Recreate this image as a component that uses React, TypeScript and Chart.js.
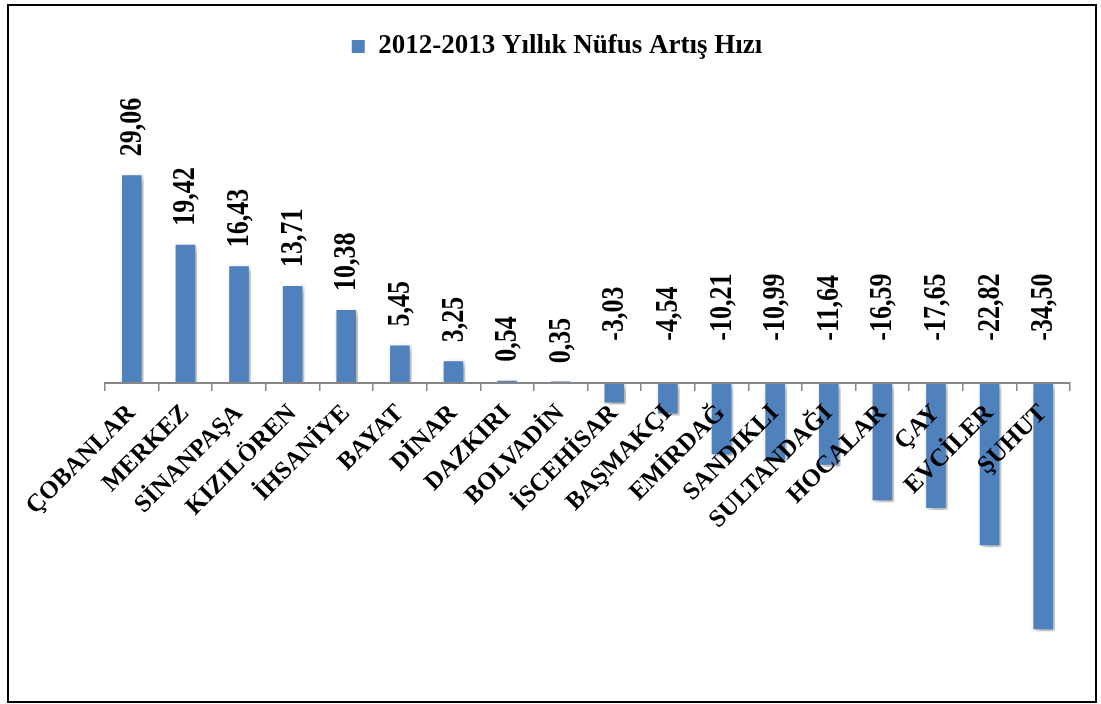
import React, { useEffect, useRef } from "react";
import { Chart, registerables } from "chart.js";

Chart.register(...registerables);

const categories = [
  "ÇOBANLAR", "MERKEZ", "SİNANPAŞA", "KIZILÖREN", "İHSANİYE", "BAYAT", "DİNAR",
  "DAZKIRI", "BOLVADİN", "İSCEHİSAR", "BAŞMAKÇI", "EMİRDAĞ", "SANDIKLI",
  "SULTANDAĞI", "HOCALAR", "ÇAY", "EVCİLER", "ŞUHUT",
];
const seriesName = "2012-2013 Yıllık Nüfus Artış Hızı";
const values = [
  29.06, 19.42, 16.43, 13.71, 10.38, 5.45, 3.25, 0.54, 0.35, -3.03, -4.54,
  -10.21, -10.99, -11.64, -16.59, -17.65, -22.82, -34.5,
];
const valueLabels = values.map((v) => v.toFixed(2).replace(".", ","));

const FONT = "'Liberation Serif', 'Times New Roman', serif";
const BLUE = "#4F81BD";

const shadowPlugin = {
  id: "barShadow",
  beforeDatasetDraw(chart: any) {
    const ctx = chart.ctx;
    ctx.save();
    ctx.shadowColor = "rgba(0,0,0,0.35)";
    ctx.shadowBlur = 6;
    ctx.shadowOffsetX = 3;
    ctx.shadowOffsetY = 3;
  },
  afterDatasetDraw(chart: any) {
    chart.ctx.restore();
  },
};

const labelPlugin = {
  id: "valueLabels",
  afterDatasetsDraw(chart: any) {
    const ctx = chart.ctx;
    const meta = chart.getDatasetMeta(0);
    const zero = chart.scales.y.getPixelForValue(0);
    ctx.save();
    ctx.font = `bold 26px ${FONT}`;
    ctx.fillStyle = "#000";
    ctx.textAlign = "left";
    ctx.textBaseline = "middle";
    meta.data.forEach((bar: any, i: number) => {
      const v = values[i];
      const startY = v >= 0 ? bar.y - 17 : zero - 42;
      ctx.save();
      ctx.translate(bar.x + 1, startY);
      ctx.rotate(-Math.PI / 2);
      ctx.scale(1, 1.2);
      ctx.fillText(valueLabels[i], 0, 0);
      ctx.restore();
    });
    ctx.restore();
  },
};

export default function App() {
  const ref = useRef<HTMLCanvasElement | null>(null);

  useEffect(() => {
    if (!ref.current) return;
    const chart = new Chart(ref.current, {
      type: "bar",
      data: {
        labels: categories,
        datasets: [
          {
            label: seriesName,
            data: values,
            backgroundColor: BLUE,
            borderColor: "#FFFFFF",
            borderWidth: 2,
            barPercentage: 0.44,
            categoryPercentage: 1,
          },
        ],
      },
      plugins: [shadowPlugin, labelPlugin],
      options: {
        responsive: false,
        animation: false,
        layout: { padding: { left: 35, right: 25, top: 17, bottom: 30 } },
        plugins: {
          tooltip: { enabled: false },
          legend: {
            display: true,
            position: "top",
            labels: {
              color: "#000",
              boxWidth: 13,
              boxHeight: 13,
              font: { family: FONT, size: 27, weight: "bold" },
              generateLabels: (c: any) =>
                Chart.defaults.plugins.legend.labels
                  .generateLabels(c)
                  .map((l: any) => ({ ...l, lineWidth: 0, strokeStyle: BLUE, fillStyle: BLUE })),
            },
          },
        },
        scales: {
          x: {
            type: "category",
            position: { y: 0 } as any,
            offset: true,
            afterFit: (scale: any) => {
              scale.height = 0;
            },
            grid: {
              display: true,
              offset: true,
              drawOnChartArea: false,
              drawTicks: true,
              tickLength: 7,
              color: "#868686",
              lineWidth: 1.5,
              z: 1,
            },
            border: { display: true, color: "#868686", width: 2, z: 1 },
            ticks: {
              z: 2,
              autoSkip: false,
              maxRotation: 45,
              minRotation: 45,
              padding: 9,
              color: "#000",
              font: { family: FONT, size: 25, weight: "bold" },
            },
          },
          y: {
            display: true,
            min: -40,
            max: 43.4,
            afterFit: (scale: any) => {
              scale.width = 61;
            },
            grid: { display: false, drawTicks: false },
            border: { display: false },
            ticks: { display: false },
          },
        },
      },
    } as any);
    return () => chart.destroy();
  }, []);

  return (
    <div
      style={{
        position: "absolute",
        left: 7,
        top: 4,
        width: 1090,
        height: 699,
        border: "2px solid #000",
        boxSizing: "border-box",
        background: "#fff",
      }}
    >
      <canvas ref={ref} width={1086} height={695} style={{ width: 1086, height: 695, display: "block" }} />
    </div>
  );
}
